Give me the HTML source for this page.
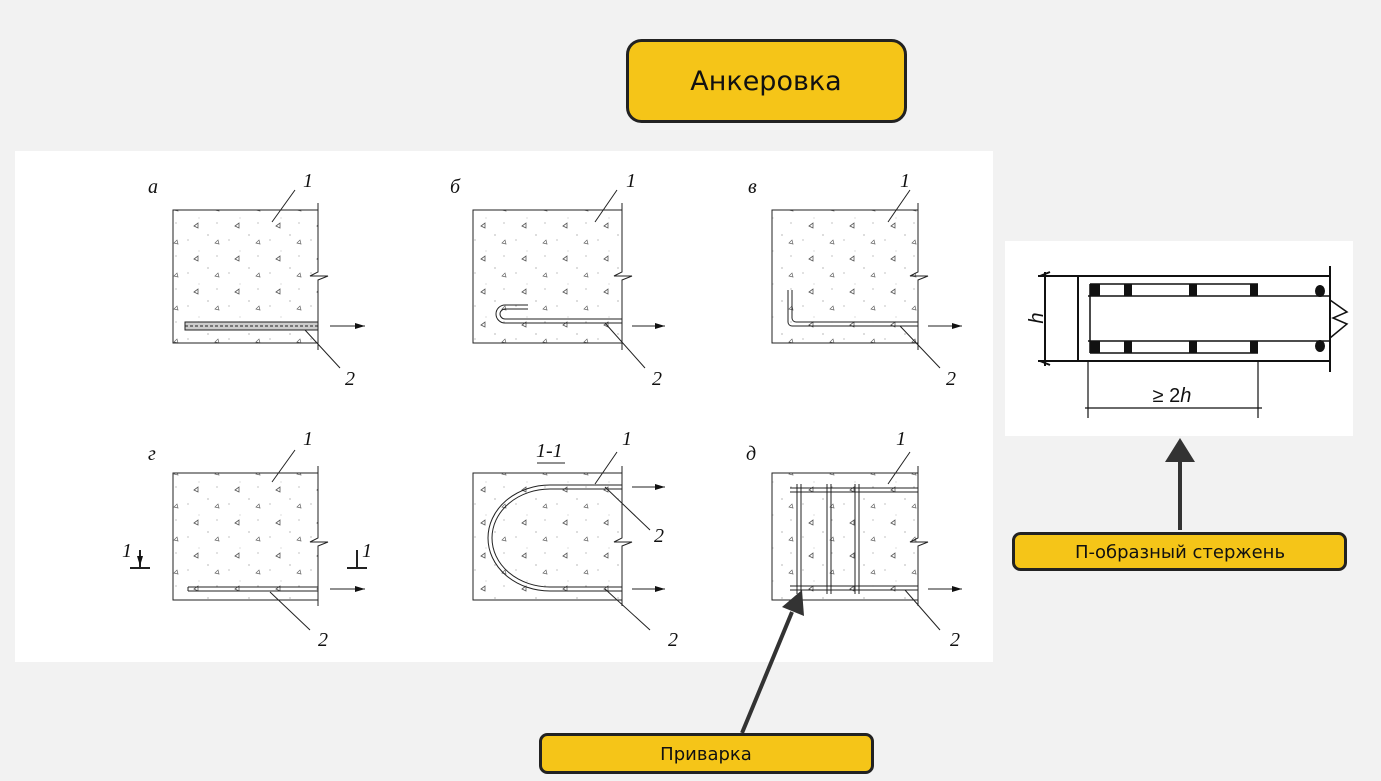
<!DOCTYPE html>
<html><head><meta charset="utf-8"><style>
body{margin:0;width:1381px;height:776px;background:#f2f2f2;overflow:hidden;font-family:"Liberation Sans",sans-serif}
</style></head><body>
<svg width="1381" height="776" viewBox="0 0 1381 776" xmlns="http://www.w3.org/2000/svg">
<defs>
<marker id="ah" markerWidth="10" markerHeight="6" refX="10" refY="3" orient="auto" markerUnits="userSpaceOnUse"><path d="M0,0L10,3L0,6z" fill="#111"/></marker>
<pattern id="dots" width="41" height="33" patternUnits="userSpaceOnUse">
<circle cx="3" cy="4" r="0.6" fill="#888"/><circle cx="24" cy="9" r="0.6" fill="#999"/><circle cx="12" cy="25" r="0.6" fill="#999"/><circle cx="35" cy="20" r="0.5" fill="#aaa"/>
<path d="M30,28l4,-3v5z" fill="none" stroke="#555" stroke-width="0.8"/>
<path d="M10,12l3,-3l1,4z" fill="none" stroke="#666" stroke-width="0.7"/>
</pattern>
</defs>
<rect x="627.5" y="40.5" width="278" height="81" rx="14" fill="#f5c518" stroke="#222" stroke-width="3"/>
<text x="766" y="90" font-size="27" text-anchor="middle" fill="#111" font-family="DejaVu Sans, Liberation Sans, sans-serif">Анкеровка</text>
<rect x="15" y="151" width="978" height="511" fill="#fff"/>
<g font-family="Liberation Serif, serif" font-style="italic" font-size="20" fill="#111" stroke="#222" stroke-width="1">
<g fill="url(#dots)">
<path d="M318,343H173V210H318"/><path d="M622,343H473V210H622"/><path d="M918,343H772V210H918"/>
<path d="M318,600H173V473H318"/><path d="M622,600H473V473H622"/><path d="M918,600H772V473H918"/>
</g>
<g fill="none">
<path d="M318,203V272L310,276L328,276L318,280V350"/>
<path d="M622,203V272L614,276L632,276L622,280V350"/>
<path d="M918,203V272L910,276L928,276L918,280V350"/>
<path d="M318,466V538L310,542L328,542L318,546V606"/>
<path d="M622,466V538L614,542L632,542L622,546V606"/>
<path d="M918,466V538L910,542L928,542L918,546V606"/>
<rect x="185" y="322" width="133" height="8" fill="#ccc"/>
<path d="M185,326H318" stroke-dasharray="3 2"/>
<path d="M330,326H365" marker-end="url(#ah)"/>
<path d="M295,190L272,222M305,330L340,368"/>
<path d="M528,305H505A9,9 0 0 0 505,323H622M528,309H505A5,5 0 0 0 505,319H622"/>
<path d="M632,326H665" marker-end="url(#ah)"/>
<path d="M617,190L595,222M605,323L645,368"/>
<path d="M788,290V322A4,4 0 0 0 792,326H918M792,290V318A4,4 0 0 0 796,322H918"/>
<path d="M928,326H962" marker-end="url(#ah)"/>
<path d="M910,190L888,222M900,326L940,368"/>
<path d="M188,587H318M188,591H318M188,587V591"/>
<path d="M330,589H365" marker-end="url(#ah)"/>
<path d="M295,450L272,482M270,592L310,630"/>
<path d="M140,550V568M130,568H150M357,550V568M347,568H367" stroke-width="2"/>
<path d="M140,552V566" marker-end="url(#ah)"/>
<path d="M622,485H550A62,53 0 0 0 550,591H622M622,489H550A58,49 0 0 0 550,587H622"/>
<path d="M632,487H665" marker-end="url(#ah)"/>
<path d="M632,589H665" marker-end="url(#ah)"/>
<path d="M617,452L595,484M605,487L650,530M605,589L650,630"/>
<path d="M537,463H565" stroke-width="1"/>
<path d="M790,488H918M790,492H918M790,586H918M790,590H918"/>
<path d="M797,484V594M801,484V594M827,484V594M831,484V594M855,484V594M859,484V594"/>
<path d="M928,589H962" marker-end="url(#ah)"/>
<path d="M910,452L888,484M905,590L940,630"/>
</g>
<g stroke="none">
<text x="148" y="193">a</text><text x="303" y="187">1</text><text x="345" y="385">2</text>
<text x="450" y="193">б</text><text x="626" y="187">1</text><text x="652" y="385">2</text>
<text x="748" y="193">в</text><text x="900" y="187">1</text><text x="946" y="385">2</text>
<text x="148" y="460">г</text><text x="303" y="445">1</text><text x="318" y="646">2</text>
<text x="536" y="457">1-1</text><text x="622" y="445">1</text><text x="654" y="542">2</text><text x="668" y="646">2</text>
<text x="746" y="460">д</text><text x="896" y="445">1</text><text x="950" y="646">2</text>
<text x="122" y="557">1</text><text x="362" y="557">1</text>
</g>
</g>
<rect x="1005" y="241" width="348" height="195" fill="#fff"/>
<g stroke="#111" fill="none" stroke-width="2">
<path d="M1038,276H1330M1038,361H1330M1078,276V361M1330,266V372"/>
<path d="M1045,272V366M1040,276L1050,272M1040,361L1050,365"/>
<path d="M1090,284H1258M1090,353H1258M1090,284V353M1088,296H1330M1088,341H1330" stroke-width="1.5"/>
<path d="M1330,300L1347,312L1333,318L1347,324L1330,338" stroke-width="1.5"/>
<path d="M1088,360V418M1258,360V418M1085,408H1262" stroke-width="1.2"/>
</g>
<g fill="#111">
<rect x="1090" y="284" width="10" height="12"/><rect x="1124" y="284" width="8" height="12"/><rect x="1189" y="284" width="8" height="12"/><rect x="1250" y="284" width="8" height="12"/>
<rect x="1090" y="341" width="10" height="12"/><rect x="1124" y="341" width="8" height="12"/><rect x="1189" y="341" width="8" height="12"/><rect x="1250" y="341" width="8" height="12"/>
<ellipse cx="1320" cy="291" rx="5" ry="6"/><ellipse cx="1320" cy="346" rx="5" ry="6"/>
<text x="1172" y="402" font-size="20" text-anchor="middle">≥ 2<tspan font-style="italic">h</tspan></text>
<text transform="translate(1043,318) rotate(-90)" font-size="20" font-style="italic" text-anchor="middle">h</text>
</g>
<g stroke="#333" stroke-width="4" fill="#333">
<line x1="1180" y1="530" x2="1180" y2="460"/>
<path d="M1165,462L1180,438L1195,462z" stroke="none"/>
<line x1="742" y1="733" x2="792" y2="612"/>
<path d="M782,607L802,590L804,616z" stroke="none"/>
</g>
<rect x="1013.5" y="533.5" width="332" height="36" rx="7" fill="#f5c518" stroke="#222" stroke-width="3"/>
<text x="1180" y="558" font-size="18" text-anchor="middle" fill="#111" font-family="DejaVu Sans, Liberation Sans, sans-serif">П-образный стержень</text>
<rect x="540.5" y="734.5" width="332" height="38" rx="7" fill="#f5c518" stroke="#222" stroke-width="3"/>
<text x="706" y="760" font-size="18" text-anchor="middle" fill="#111" font-family="DejaVu Sans, Liberation Sans, sans-serif">Приварка</text>
</svg>
</body></html>
